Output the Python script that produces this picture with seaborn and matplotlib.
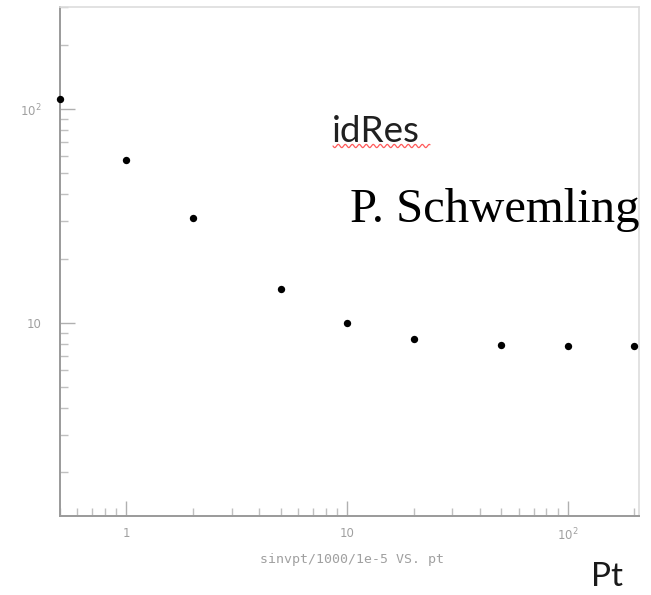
import numpy as np
import pandas as pd
import matplotlib
matplotlib.use("Agg")
import matplotlib.pyplot as plt
import seaborn as sns

# Resolution vs transverse momentum
pt = [0.5, 1, 2, 5, 10, 20, 50, 100, 200]
resolution = [111, 58, 31, 14.4, 10.0, 8.4, 7.9, 7.8, 7.8]

df = pd.DataFrame({"pt": pt, "res": resolution})

sns.set_style("white")
plt.rcParams["font.family"] = ["DejaVu Sans"]

fig = plt.figure(figsize=(6.51, 5.95), dpi=100)
ax = fig.add_axes([60 / 651, 1 - 516 / 595, 579 / 651, 509 / 595])

sns.scatterplot(data=df, x="pt", y="res", ax=ax, color="black", s=28,
                edgecolor="black", linewidth=0, legend=False, clip_on=False, zorder=5)

ax.set_xscale("log")
ax.set_yscale("log")
ax.set_xlim(0.5, 210)
ax.set_ylim(1.25, 300)

axis_grey = "#9a9a9a"
for side in ["left", "bottom"]:
    ax.spines[side].set_color(axis_grey)
    ax.spines[side].set_linewidth(1.4)
for side in ["top", "right"]:
    ax.spines[side].set_color("#dddddd")
    ax.spines[side].set_linewidth(1.2)

ax.tick_params(which="both", bottom=True, left=True, top=False, right=False)
ax.tick_params(which="major", direction="in", length=11, width=1, color="#b0b0b0",
               labelsize=8.5, labelcolor="#a0a0a0")
ax.tick_params(which="minor", direction="in", length=6, width=1, color="#c0c0c0")
ax.tick_params(axis="y", which="major", pad=13)
ax.tick_params(axis="x", which="major", pad=8)

ax.set_xticks([1, 10, 100])
ax.set_xticklabels(["1", "10", "10$^{2}$"])
ax.set_yticks([10, 100])
ax.set_yticklabels(["10", "10$^{2}$"])
ax.xaxis.set_minor_locator(matplotlib.ticker.LogLocator(base=10, subs=np.arange(2, 10)))
ax.yaxis.set_minor_locator(matplotlib.ticker.LogLocator(base=10, subs=np.arange(2, 10)))
ax.xaxis.set_minor_formatter(matplotlib.ticker.NullFormatter())
ax.yaxis.set_minor_formatter(matplotlib.ticker.NullFormatter())

ax.set_xlabel("")
ax.set_ylabel("")

fig.text(352 / 651, 1 - 560 / 595, "sinvpt/1000/1e-5 VS. pt", ha="center", va="center",
         fontsize=9.5, color="#a0a0a0", family=["DejaVu Sans Mono"])

# annotations
fig.text(332 / 651, 1 - 131 / 595, "idRes", ha="left", va="center",
         fontsize=26.5, color="#202020", family=["Lato", "DejaVu Sans"])
wx = np.linspace(333, 430, 200)
wy = 146 + 1.6 * np.sin((wx - 333) / 7.0 * 2 * np.pi)
fig.add_artist(plt.Line2D(wx / 651, 1 - wy / 595, color="#ff5a5a", lw=0.9))

fig.text(350 / 651, 1 - 210 / 595, "P. Schwemling", ha="left", va="center",
         fontsize=35, color="black", family=["Liberation Serif", "DejaVu Serif"])

fig.text(591 / 651, 1 - 577 / 595, "Pt", ha="left", va="center",
         fontsize=24, color="#1a1a1a", family=["Lato", "DejaVu Sans"])

fig.savefig("out.png", dpi=100)
